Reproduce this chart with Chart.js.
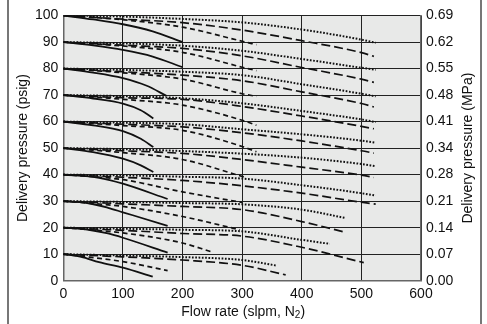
<!DOCTYPE html>
<html>
<head>
<meta charset="utf-8">
<script src="https://cdn.jsdelivr.net/npm/chart.js@4/dist/chart.umd.min.js"></script>
<style>
  html, body { margin: 0; padding: 0; background: #fff; }
  #wrap { position: relative; width: 487px; height: 324px; }
  .frame { position: absolute; top: 0; width: 1.5px; height: 324px; background: #777; }
</style>
</head>
<body>
<div id="wrap">
  <canvas id="flow-chart" width="487" height="324"></canvas>
  <div class="frame" style="left:7px"></div>
  <div class="frame" style="left:480px"></div>
</div>
<script>
// Set pressures, top band first
const setPressures = [100, 90, 80, 70, 60, 50, 40, 30, 20, 10];

// Right axis labels (MPa) for 0..100 psig in steps of 10
const mpaLabels = ['0.00', '0.07', '0.14', '0.21', '0.28', '0.34', '0.41', '0.48', '0.55', '0.62', '0.69'];
const flowTicks = [0, 100, 200, 300, 400, 500, 600];

// Curves as [flow, pressure] pairs, one list per set pressure (same order as setPressures)
const solidCurves = [
  [[0, 100], [50, 98.5], [100, 96.7], [150, 94], [200, 90]],
  [[0, 90], [50, 88.7], [100, 87], [150, 84.5], [200, 80.5]],
  [[0, 80], [50, 78.5], [100, 76.4], [140, 73.5], [173, 69.7]],
  [[0, 70], [50, 68.7], [100, 66.8], [130, 64.3], [151, 61.2]],
  [[0, 60], [50, 58.6], [100, 56.4], [130, 53.5], [151, 50.4]],
  [[0, 50], [50, 48.5], [100, 46], [130, 43.5], [151, 41]],
  [[0, 40], [60, 38.8], [100, 36.6], [175, 30.8]],
  [[0, 30], [40, 29.3], [75, 27.5], [100, 25.8], [175, 20.7]],
  [[0, 20], [40, 19.3], [75, 17.8], [100, 16.2], [175, 10.6]],
  [[0, 10], [30, 9], [60, 7], [100, 4.9], [150, 1.5]]
];

const shortDashCurves = [
  [[0, 100], [100, 98.4], [200, 95.6], [300, 90.3], [324, 89]],
  [[0, 90], [100, 88.5], [200, 86.1], [300, 80.5], [324, 79.2]],
  [[0, 80], [100, 78.4], [200, 76], [300, 70.5], [324, 69.5]],
  [[0, 70], [100, 68.4], [200, 66.2], [300, 60.5], [324, 58.6]],
  [[0, 60], [100, 58.5], [200, 56.7], [300, 50.6], [324, 48.6]],
  [[0, 50], [100, 48.3], [200, 45.7], [305, 39]],
  [[0, 40], [100, 38.1], [200, 33.5], [300, 29.5]],
  [[0, 30], [100, 28], [200, 24.2], [296, 19.2]],
  [[0, 20], [100, 18], [200, 14.2], [247, 11]],
  [[0, 10], [100, 7.2], [175, 3.8]]
];

const longDashCurves = [
  [[0, 100], [100, 98.6], [200, 97.3], [300, 94.5], [400, 90.5], [500, 86], [521, 84.6]],
  [[0, 90], [100, 88.8], [200, 87.6], [300, 84.8], [400, 80.4], [500, 76], [521, 74.8]],
  [[0, 80], [100, 78.8], [200, 77.5], [300, 75.4], [400, 71.2], [500, 66.8], [521, 65.5]],
  [[0, 70], [100, 69], [200, 68.4], [300, 65.7], [400, 62.1], [500, 58.2], [521, 57.3]],
  [[0, 60], [100, 59], [200, 58], [300, 55.8], [400, 52.7], [500, 49], [521, 48.1]],
  [[0, 50], [100, 49], [200, 48], [300, 45.7], [400, 42.8], [500, 39.8], [521, 38.9]],
  [[0, 40], [100, 39], [200, 37.8], [300, 35.8], [400, 33], [500, 29.6], [524, 28.9]],
  [[0, 30], [100, 29], [200, 28], [300, 26.8], [400, 22.3], [474, 18.2]],
  [[0, 20], [100, 19], [200, 17.8], [300, 16.8], [400, 12.6], [504, 6.8]],
  [[0, 10], [100, 9], [200, 7.8], [300, 5.8], [373, 2.2]]
];

const dottedCurves = [
  [[0, 100], [100, 99.6], [200, 98.7], [300, 97.4], [400, 94.7], [500, 90.9], [524, 89.7]],
  [[0, 90], [100, 89.5], [200, 88.6], [300, 86.7], [400, 83.6], [500, 80.3], [524, 79.5]],
  [[0, 80], [100, 79.5], [200, 78.8], [300, 77.5], [400, 74.1], [500, 70.5], [524, 69.5]],
  [[0, 70], [100, 69.6], [200, 68.8], [300, 66.9], [400, 64], [500, 60.8], [524, 59.8]],
  [[0, 60], [100, 59.6], [200, 59], [300, 57.1], [400, 55.2], [500, 52.8], [524, 52]],
  [[0, 50], [100, 49.6], [200, 48.9], [300, 47.9], [400, 46.4], [500, 44], [524, 43.2]],
  [[0, 40], [100, 39.7], [200, 39.2], [300, 38.5], [400, 36], [500, 33], [524, 32.1]],
  [[0, 30], [100, 29.7], [200, 29.3], [300, 28.8], [400, 26.8], [474, 23.6]],
  [[0, 20], [100, 19.6], [200, 19.2], [300, 18.6], [400, 15.4], [447, 13.9]],
  [[0, 10], [100, 9.5], [200, 8.9], [300, 7.8], [358, 5.7]]
];

const FONT = "'Liberation Sans', Arial, sans-serif";
const FSIZE = 14;
const INK = '#111';

// Line styles for the four curve families
const styles = [
  { curves: dottedCurves, dash: [1.7, 1.6], width: 2 },
  { curves: longDashCurves, dash: [9, 4], width: 1.7 },
  { curves: shortDashCurves, dash: [5, 3.5], width: 1.7 },
  { curves: solidCurves, dash: [], width: 1.8 }
];

const datasets = [];
styles.forEach(s => {
  s.curves.forEach((pts, i) => {
    datasets.push({
      label: setPressures[i] + ' psig',
      data: pts.map(p => ({ x: p[0], y: p[1] })),
      borderColor: INK,
      borderWidth: s.width,
      borderDash: s.dash,
      pointRadius: 0,
      fill: false,
      cubicInterpolationMode: 'monotone'
    });
  });
});

// Plot background fill
const plotBg = {
  id: 'plotBg',
  beforeDraw(chart) {
    const { ctx, chartArea: a } = chart;
    ctx.save();
    ctx.fillStyle = '#e8e9e8';
    ctx.fillRect(a.left, a.top, a.right - a.left, a.bottom - a.top);
    ctx.restore();
  }
};

// X axis title with subscript 2, and the right axis title read bottom-to-top
const axisTitles = {
  id: 'axisTitles',
  afterDraw(chart) {
    const { ctx, chartArea: a } = chart;
    const main = 'Flow rate (slpm, N';
    const sub = '2';
    const tail = ')';
    ctx.save();
    ctx.fillStyle = INK;
    ctx.textBaseline = 'middle';
    ctx.font = FSIZE + 'px ' + FONT;
    const w1 = ctx.measureText(main).width;
    const w3 = ctx.measureText(tail).width;
    ctx.font = '10px ' + FONT;
    const w2 = ctx.measureText(sub).width;
    const cx = (a.left + a.right) / 2 + 1;
    const y = 312;
    let x = cx - (w1 + w2 + w3) / 2;
    ctx.textAlign = 'left';
    ctx.font = FSIZE + 'px ' + FONT;
    ctx.fillText(main, x, y);
    x += w1;
    ctx.font = '10px ' + FONT;
    ctx.fillText(sub, x, y + 3);
    x += w2;
    ctx.font = FSIZE + 'px ' + FONT;
    ctx.fillText(tail, x, y);

    // right title
    ctx.translate(468, (a.top + a.bottom) / 2);
    ctx.rotate(-Math.PI / 2);
    ctx.textAlign = 'center';
    ctx.fillText('Delivery pressure (MPa)', 0, 0);
    ctx.restore();
  }
};

new Chart(document.getElementById('flow-chart'), {
  type: 'line',
  data: { datasets },
  plugins: [plotBg, axisTitles],
  options: {
    responsive: false,
    devicePixelRatio: 1,
    animation: false,
    layout: { padding: { top: 15.5, left: 0, right: 0, bottom: 0 } },
    plugins: {
      legend: { display: false },
      tooltip: { enabled: false }
    },
    scales: {
      x: {
        type: 'linear',
        min: 0,
        max: 600,
        afterBuildTicks: scale => { scale.ticks = flowTicks.map(v => ({ value: v })); },
        afterFit: scale => { scale.height = 43.3; },
        grid: { color: '#222', lineWidth: 1, drawTicks: false },
        border: { color: '#666', width: 1.5 },
        ticks: { color: INK, padding: 5, maxRotation: 0, font: { family: FONT, size: FSIZE } },
        title: { display: false }
      },
      y: {
        position: 'left',
        min: 0,
        max: 100,
        ticks: { stepSize: 10, color: INK, padding: 5, font: { family: FONT, size: FSIZE } },
        afterFit: scale => { scale.width = 63.3; },
        grid: { color: '#222', lineWidth: 1, drawTicks: false },
        border: { color: '#666', width: 1.5 },
        title: {
          display: true,
          text: 'Delivery pressure (psig)',
          color: INK,
          font: { family: FONT, size: FSIZE },
          padding: { top: 14.6, bottom: 0 }
        }
      },
      y2: {
        position: 'right',
        min: 0,
        max: 100,
        ticks: {
          stepSize: 10,
          color: INK,
          padding: 5,
          font: { family: FONT, size: FSIZE },
          callback: v => mpaLabels[Math.round(v / 10)]
        },
        afterFit: scale => { scale.width = 66; },
        grid: { display: false, drawTicks: false },
        border: { color: '#666', width: 1.5 },
        title: { display: false }
      }
    }
  }
});
</script>
</body>
</html>
